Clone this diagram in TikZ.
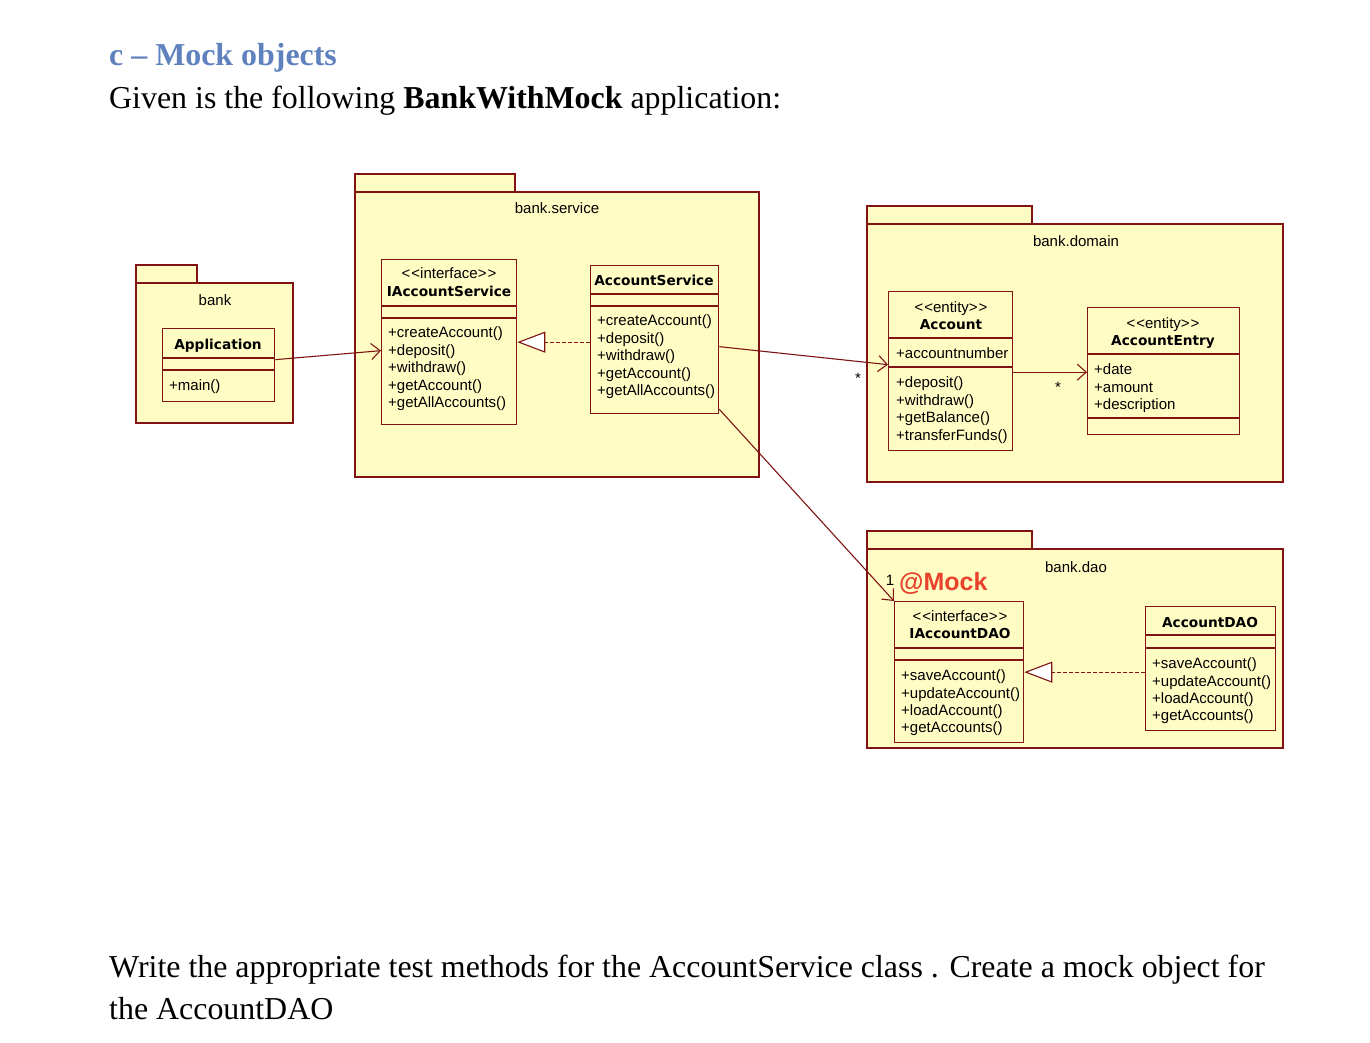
\documentclass[tikz,border=0pt]{standalone}
\usepackage{fontspec}
\setmainfont{Liberation Serif}
\newfontfamily\umlfont{Liberation Sans}
\newfontfamily\umlboldfont{DejaVu Sans}
\usetikzlibrary{arrows.meta,calc}
\definecolor{pkgfill}{RGB}{255,252,196}
\definecolor{umlline}{RGB}{128,20,20}
\definecolor{titleblue}{RGB}{95,130,190}
\definecolor{mockred}{RGB}{232,65,44}
\newcommand\umlsep[2]{\draw[sepline] (#1.west |- 0,#2) -- (#1.east |- 0,#2);}
\newcommand\stereotxt[1]{<\kern1pt<#1>\kern1pt>}
\tikzset{
  pkgshape/.style={draw=umlline, fill=pkgfill, line width=1.3pt},
  clsbox/.style={draw=umlline, fill=pkgfill, line width=1.3pt, rectangle, inner sep=0pt, anchor=north west},
  sepline/.style={draw=umlline, line width=1.3pt},
  umlfnt/.style={font=\umlfont\fontsize{15}{17}\selectfont, inner sep=0pt, text height=10.5pt, text depth=3pt, yshift=-2pt},
  optext/.style={umlfnt, anchor=west},
  pkglabel/.style={umlfnt},
  stereo/.style={umlfnt},
  clsname/.style={font=\umlboldfont\bfseries\fontsize{13.7}{16}\selectfont, inner sep=0pt, text height=10pt, text depth=3pt, yshift=-1.5pt},
  assoc/.style={draw=umlline, line width=1.1pt, -{Straight Barb[length=9pt,width=16pt]}},
  realize/.style={draw=umlline, line width=1.1pt, dash pattern=on 4pt off 2pt, -{Triangle[open, fill=white, length=28pt, width=21pt]}},
  bodytext/.style={font=\fontsize{31.9}{42}\selectfont, inner sep=0pt, anchor=base west},
}
\begin{document}
\begin{tikzpicture}[x=1pt,y=-1pt]
\fill[white] (0,0) rectangle (1370,1042);
\useasboundingbox (0,0) rectangle (1370,1042);

% texts
\node[bodytext, text=titleblue, font=\bfseries\fontsize{31.9}{42}\selectfont] (title) at (109,65) {c -- Mock objects};
\node[bodytext] (intro) at (109,108) {Given is the following \textbf{BankWithMock} application:};
\node[bodytext] (task1) at (109,977) {Write the appropriate test methods for the AccountService class . Create a mock object for};
\node[bodytext] (task2) at (109,1019) {the AccountDAO};

% packages
\draw[pkgshape] (136,265) rectangle (197,283);
\draw[pkgshape] (136,283) rectangle (293,423);
\node[pkglabel] (lbank) at (215,300) {bank};

\draw[pkgshape] (355,174) rectangle (515,192);
\draw[pkgshape] (355,192) rectangle (759,477);
\node[pkglabel] (lservice) at (557,208) {bank.service};

\draw[pkgshape] (867,206) rectangle (1032,224);
\draw[pkgshape] (867,224) rectangle (1283,482);
\node[pkglabel] (ldomain) at (1076,241) {bank.domain};

\draw[pkgshape] (867,531) rectangle (1032,549);
\draw[pkgshape] (867,549) rectangle (1283,748);
\node[pkglabel] (ldao) at (1076,567) {bank.dao};

% Application
\node[clsbox, minimum width=112pt, minimum height=73pt] (app) at (162,328) {};
\umlsep{app}{358}
\umlsep{app}{370}
\node[clsname] (appname) at (218,344) {Application};
\node[optext] (appop1) at (169,385) {+main()};

% IAccountService
\node[clsbox, minimum width=135pt, minimum height=165pt] (ias) at (381,259) {};
\umlsep{ias}{306}
\umlsep{ias}{318}
\node[stereo] (iasst) at (449,273) {\stereotxt{interface}};
\node[clsname] (iasname) at (449,291) {IAccountService};
\foreach \t [count=\i] in {+createAccount(),+deposit(),+withdraw(),+getAccount(),+getAllAccounts()}
  \node[optext] (iasop\i) at (388,{332+17.5*(\i-1)}) {\t};

% AccountService
\node[clsbox, minimum width=128pt, minimum height=148pt] (as) at (590,265) {};
\umlsep{as}{294}
\umlsep{as}{306}
\node[clsname] (asname) at (654,280) {AccountService};
\foreach \t [count=\i] in {+createAccount(),+deposit(),+withdraw(),+getAccount(),+getAllAccounts()}
  \node[optext] (asop\i) at (597,{320+17.5*(\i-1)}) {\t};

% Account
\node[clsbox, minimum width=124pt, minimum height=159pt] (acc) at (888,291) {};
\umlsep{acc}{338}
\umlsep{acc}{367}
\node[stereo] (accst) at (951,307) {\stereotxt{entity}};
\node[clsname] (accname) at (951,324) {Account};
\node[optext] (accat1) at (896,353) {+accountnumber};
\foreach \t [count=\i] in {+deposit(),+withdraw(),+getBalance(),+transferFunds()}
  \node[optext] (accop\i) at (896,{382+17.5*(\i-1)}) {\t};

% AccountEntry
\node[clsbox, minimum width=152pt, minimum height=127pt] (ae) at (1087,307) {};
\umlsep{ae}{354}
\umlsep{ae}{418}
\node[stereo] (aest) at (1163,323) {\stereotxt{entity}};
\node[clsname] (aename) at (1163,340) {AccountEntry};
\foreach \t [count=\i] in {+date,+amount,+description}
  \node[optext] (aeat\i) at (1094,{369+17.5*(\i-1)}) {\t};

% IAccountDAO
\node[clsbox, minimum width=129pt, minimum height=141pt] (iad) at (894,601) {};
\umlsep{iad}{648}
\umlsep{iad}{660}
\node[stereo] (iadst) at (960,616) {\stereotxt{interface}};
\node[clsname] (iadname) at (960,633) {IAccountDAO};
\foreach \t [count=\i] in {+saveAccount(),+updateAccount(),+loadAccount(),+getAccounts()}
  \node[optext] (iadop\i) at (901,{675+17.3*(\i-1)}) {\t};

% AccountDAO
\node[clsbox, minimum width=130pt, minimum height=124pt] (ad) at (1145,606) {};
\umlsep{ad}{635}
\umlsep{ad}{648}
\node[clsname] (adname) at (1210,622) {AccountDAO};
\foreach \t [count=\i] in {+saveAccount(),+updateAccount(),+loadAccount(),+getAccounts()}
  \node[optext] (adop\i) at (1152,{663+17.3*(\i-1)}) {\t};

% connectors
\draw[assoc] ([yshift=5.5pt]app.east) -- ([yshift=-8.5pt]ias.west);
\draw[realize] (as.west |- ias.east) -- (ias.east);
\draw[assoc] ([yshift=-7pt]as.east) -- ([yshift=6.5pt]acc.west);
\node[pkglabel] (mult1) at (858,378) {*};
\draw[assoc] ([yshift=-1pt]acc.east) -- ([yshift=-1pt]acc.east -| ae.west);
\node[pkglabel] (mult2) at (1058,387) {*};
\draw[assoc] ([yshift=5pt]as.south east) -- (iad.north west);
\node[pkglabel] (mult3) at (890,580) {1};
\node[font=\umlfont\bfseries\fontsize{25}{30}\selectfont, text=mockred, inner sep=0pt, anchor=west] (mock) at (899,583) {@Mock};
\draw[realize] (iad.east -| ad.west) -- (iad.east);
\end{tikzpicture}
\end{document}
